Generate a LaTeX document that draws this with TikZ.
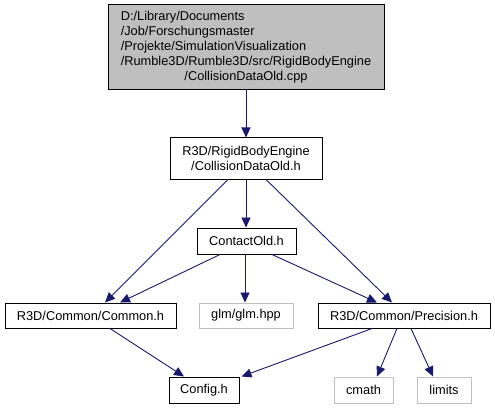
\documentclass[tikz,border=0pt]{standalone}
\usepackage{fontspec}
\setmainfont{Liberation Sans}
\usetikzlibrary{arrows.meta,calc}
\definecolor{edgeblue}{HTML}{191970}
\definecolor{topgray}{HTML}{BFBFBF}
\definecolor{extgray}{HTML}{BFBFBF}
\begin{document}
\begin{tikzpicture}[x=1pt,y=-1pt,
  box/.style={draw=black, fill=white, line width=1pt, inner sep=0pt, align=center,
    font=\fontsize{12.8}{15.2}\selectfont},
  extbox/.style={box, draw=extgray},
  dep/.style={draw=edgeblue, line width=0.9pt, -{Triangle[length=10pt,width=9pt]}}]
\useasboundingbox (0,0) rectangle (495,409);
\node[box, fill=topgray, minimum width=276pt, minimum height=85pt] (top) at (246,47.5)
  {\begin{tabular}{@{}l@{}}D:/Library/Documents\\/Job/Forschungsmaster\\/Projekte/SimulationVisualization\\/Rumble3D/Rumble3D/src/RigidBodyEngine\\\multicolumn{1}{@{}c@{}}{/CollisionDataOld.cpp}\end{tabular}};
\node[box, minimum width=152pt, minimum height=41pt] (n2) at (246,158.5) {R3D/RigidBodyEngine\\/CollisionDataOld.h};
\node[box, minimum width=99pt, minimum height=26pt] (contact) at (246.5,241) {ContactOld.h};
\node[box, minimum width=171pt, minimum height=25pt] (common) at (90.5,315.5) {R3D/Common/Common.h};
\node[extbox, minimum width=94pt, minimum height=25pt] (glm) at (246,315.5) {glm/glm.hpp};
\node[box, minimum width=172pt, minimum height=25pt] (prec) at (404,315.5) {R3D/Common/Precision.h};
\node[box, minimum width=70pt, minimum height=26pt] (config) at (204,390) {Config.h};
\node[extbox, minimum width=59pt, minimum height=26pt] (cmath) at (363.5,390) {cmath};
\node[extbox, minimum width=54pt, minimum height=26pt] (limits) at (444,390) {limits};

\draw[dep] (top.south) -- (n2.north);
\draw[dep] ($(n2.south)+(-18,0)$) -- ($(common.north)+(14.5,0)$);
\draw[dep] (n2.south) -- (contact.north -| n2.south);
\draw[dep] ($(n2.south)+(20,0)$) -- ($(prec.north)+(-12,0)$);
\draw[dep] ($(contact.south)+(-26.5,0)$) -- ($(common.north)+(29.5,0)$);
\draw[dep] ($(contact.south)+(-1.5,0)$) -- (glm.north -| 245,0);
\draw[dep] ($(contact.south)+(25.5,0)$) -- ($(prec.north)+(-27,0)$);
\draw[dep] ($(common.south)+(19.5,0)$) -- ($(config.north)+(-20,0)$);
\draw[dep] ($(prec.south)+(-32,0)$) -- ($(config.north east)+(2,0)$);
\draw[dep] ($(prec.south)+(-7,0)$) -- ($(cmath.north)+(13.5,0)$);
\draw[dep] ($(prec.south)+(7,0)$) -- ($(limits.north)+(-11,0)$);
\end{tikzpicture}
\end{document}
